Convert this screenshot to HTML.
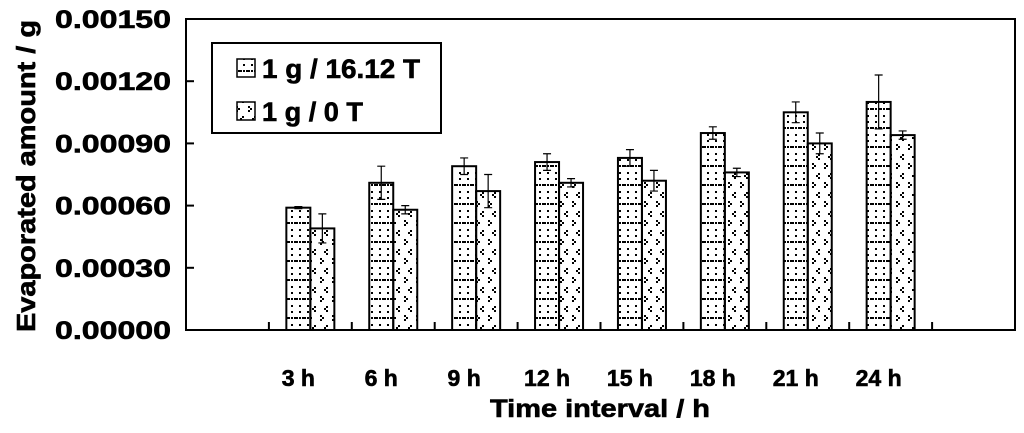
<!DOCTYPE html>
<html><head><meta charset="utf-8"><style>
body{margin:0;background:#fff}
svg text{font-family:"Liberation Sans",Arial,sans-serif;font-weight:bold;fill:#000;stroke:#000;stroke-width:0.6}
</style></head><body>
<svg id="c" width="1024" height="428">
<defs>
<pattern id="p1" width="8" height="19" patternUnits="userSpaceOnUse">
<rect x="3" y="1" width="2" height="2" fill="#000"/><rect x="3" y="7" width="2" height="2" fill="#000"/><rect x="3" y="13" width="2" height="2" fill="#000"/><rect x="0" y="13" width="2" height="2" fill="#000"/><rect x="6" y="13" width="2" height="2" fill="#000"/>
</pattern>
<pattern id="p2" width="12" height="19" patternUnits="userSpaceOnUse">
<rect x="2" y="2" width="2" height="2" fill="#000"/><rect x="0" y="4" width="2" height="2" fill="#000"/><rect x="2" y="6" width="2" height="2" fill="#000"/>
<rect x="8" y="11" width="2" height="2" fill="#000"/><rect x="10" y="13" width="2" height="2" fill="#000"/><rect x="8" y="15" width="2" height="2" fill="#000"/>
</pattern>
</defs>
<g id="plot"></g>
</svg>
<script>
const categories=["","3 h","6 h","9 h","12 h","15 h","18 h","21 h","24 h",""];
const seriesNames=["1 g / 16.12 T","1 g / 0 T"];
const s1=[null,0.00059,0.00071,0.00079,0.00081,0.00083,0.00095,0.00105,0.00110,null];
const s2=[null,0.00049,0.00058,0.00067,0.00071,0.00072,0.00076,0.00090,0.00094,null];
const e1=[null,0.000005,0.00008,0.00004,0.00004,0.00004,0.00003,0.00005,0.00013,null];
const e2=[null,0.00007,0.00002,0.00008,0.00002,0.00005,0.00002,0.00005,0.00002,null];
const yTicks=["0.00000","0.00030","0.00060","0.00090","0.00120","0.00150"];
const L=186,R=1015,T=19,B=330,YMAX=0.0015;
const y=v=>B-(v/YMAX)*(B-T);
const cw=(R-L)/categories.length;
const xc=i=>L+cw*(i+0.5);
const g=document.getElementById('plot');
const NS="http://www.w3.org/2000/svg";
function mk(t,a,p){const e=document.createElementNS(NS,t);for(const k in a)e.setAttribute(k,a[k]);(p||g).appendChild(e);return e;}
let e;
e=mk('rect',{x:L,y:T,width:R-L,height:B-T,fill:'none',stroke:'#000','stroke-width':2});


yTicks.forEach(t=>{const v=parseFloat(t),yy=y(v);
 let tk=mk('line',{x1:L,x2:L+8,y1:yy,y2:yy,stroke:'#000','stroke-width':2});
 
 
 let tx=mk('text',{x:55,y:yy+9,'font-size':25,textLength:116,lengthAdjust:'spacingAndGlyphs'});tx.textContent=t;
 
 
});
for(let i=1;i<categories.length;i++){const xx=L+cw*i;
 let tk=mk('line',{x1:xx,x2:xx,y1:B,y2:B-8,stroke:'#000','stroke-width':2});
 
 }
const bw=24;
categories.forEach((c,i)=>{
 if(c){let tx=mk('text',{x:xc(i)-12,y:386,'text-anchor':'middle','font-size':23});tx.textContent=c;
 
 }
 [[s1,e1,'p1',-bw],[s2,e2,'p2',0]].forEach(([s,er,p,off],k)=>{
  if(s[i]==null)return;
  const x0=xc(i)+off;
  let r=mk('rect',{x:x0,y:y(s[i]),width:bw,height:B-y(s[i]),fill:'url(#'+p+')',stroke:'#000','stroke-width':2});
  
  
  const cx=x0+bw/2,hi=y(s[i]+er[i]),lo=y(s[i]-er[i]);
  let eb=mk('path',{d:`M${cx} ${hi}V${lo}M${cx-4} ${hi}H${cx+4}M${cx-4} ${lo}H${cx+4}`,stroke:'#000','stroke-width':1.2,fill:'none'});
  
  
 });
});
let lg=mk('g',{});


mk('rect',{x:212,y:43,width:229,height:90,fill:'#fff',stroke:'#000','stroke-width':2},lg);
const lw=[158,101];
seriesNames.forEach((n,k)=>{const yy=68+k*43;
 let sw=mk('rect',{x:237,y:yy-9,width:18,height:18,fill:'url(#p'+(k+1)+')',stroke:'#000','stroke-width':1.5},lg);
 
 
 let tx=mk('text',{x:262,y:yy+10,'font-size':27,textLength:lw[k],lengthAdjust:'spacingAndGlyphs'},lg);tx.textContent=n;
 
 
});
let xt=mk('text',{x:490,y:417,'font-size':25,textLength:220,lengthAdjust:'spacingAndGlyphs'});xt.textContent='Time interval / h';


let yt=mk('text',{x:0,y:0,'font-size':26,textLength:312,lengthAdjust:'spacingAndGlyphs',transform:'translate(35,332) rotate(-90)'});yt.textContent='Evaporated amount / g';


</script>
</body></html>
